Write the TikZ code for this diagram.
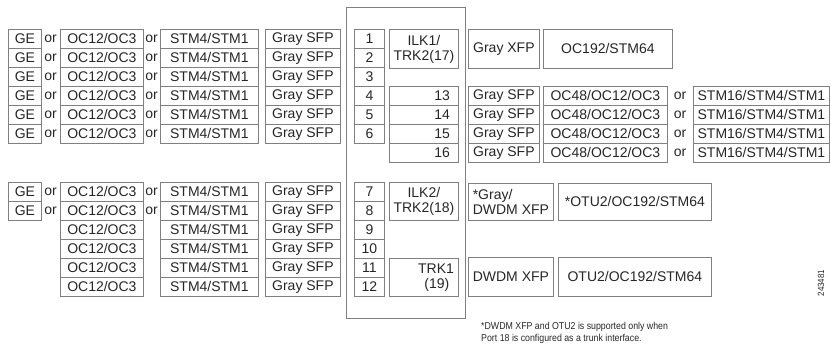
\documentclass[tikz,border=0pt]{standalone}
\usepackage{fontspec}
\setmainfont{Liberation Sans}
\newfontfamily\notefont[FakeStretch=0.88]{Liberation Sans}
\usetikzlibrary{positioning}
\tikzset{>=latex}
\tikzset{ cell/.style={draw=black!50, line width=0.8pt, anchor=north west, minimum height=19, inner sep=0pt, text=black!85, font=\fontsize{14}{15}\selectfont},
  orword/.style={inner sep=0pt, text=black!85, font=\fontsize{14}{15}\selectfont} }
\newcommand{\row}{19}

\begin{document}
\begin{tikzpicture}[x=1pt,y=-1pt]
  \useasboundingbox (0,0) rectangle (831,354);
  % card outline
  \node[draw=black!50, line width=0.8pt, anchor=north west, minimum width=119, minimum height=311, inner sep=0pt] (card) at (346,7) {};
  % client ports 1-6
  \foreach \i [evaluate=\i as \y using {29+\row*(\i-1)}] in {1,...,6} {
    \node[cell,minimum width=33] (ge\i) at (8,\y) {GE};
    \node[orword] (ora\i) at (50.5,\y+9.5) {or};
    \node[cell,minimum width=83] (oc\i) at (60,\y) {OC12/OC3};
    \node[orword] (orb\i) at (151.5,\y+9.5) {or};
    \node[cell,minimum width=98] (stm\i) at (160,\y) {STM4/STM1};
    \node[cell,minimum width=75] (sfp\i) at (265,\y) {Gray SFP};
    \node[cell,minimum width=30] (port\i) at (354,\y) {\i};
  }
  % client ports 7-12
  \foreach \i [evaluate=\i as \y using {182+\row*(\i-7)}] in {7,...,12} {
    \node[cell,minimum width=83] (oc\i) at (60,\y) {OC12/OC3};
    \node[cell,minimum width=98] (stm\i) at (160,\y) {STM4/STM1};
    \node[cell,minimum width=75] (sfp\i) at (265,\y) {Gray SFP};
    \node[cell,minimum width=30] (port\i) at (354,\y) {\i};
  }
  \foreach \i [evaluate=\i as \y using {182+\row*(\i-7)}] in {7,8} {
    \node[cell,minimum width=33] (ge\i) at (8,\y) {GE};
    \node[orword] (ora\i) at (50.5,\y+9.5) {or};
    \node[orword] (orb\i) at (151.5,\y+9.5) {or};
  }
  % high rate ports 13-16
  \foreach \i [evaluate=\i as \y using {86+\row*(\i-13)}] in {13,...,16} {
    \node[cell,minimum width=69,text width=52,align=right] (hp\i) at (389,\y) {\i};
    \node[cell,minimum width=71] (hsfp\i) at (468,\y) {Gray SFP};
    \node[cell,minimum width=124] (hoc\i) at (543,\y) {OC48/OC12/OC3};
    \node[orword] (orc\i) at (680,\y+9.5) {or};
    \node[cell,minimum width=136] (hstm\i) at (693,\y) {STM16/STM4/STM1};
  }
  % trunk ports
  \node[cell,minimum width=69,minimum height=39,align=center] (ilk1) at (389,29) {ILK1/\\TRK2(17)};
  \node[cell,minimum width=71,minimum height=39] (xfp1) at (468,29) {Gray XFP};
  \node[cell,minimum width=129,minimum height=39] (rate1) at (543,29) {OC192/STM64};
  \node[cell,minimum width=69,minimum height=38,align=center] (ilk2) at (389,182) {ILK2/\\TRK2(18)};
  \node[cell,minimum width=85,minimum height=37,align=left] (xfp2) at (468,183) {*Gray/\\DWDM XFP};
  \node[cell,minimum width=153,minimum height=37] (rate2) at (558,183) {*OTU2/OC192/STM64};
  \node[cell,minimum width=69,minimum height=38,text width=60,align=right] (trk1) at (389,258) {TRK1\\(19)\,\,};
  \node[cell,minimum width=85,minimum height=39] (xfp3) at (468,257) {DWDM XFP};
  \node[cell,minimum width=153,minimum height=39] (rate3) at (558,257) {OTU2/OC192/STM64};
  % note
  \node[anchor=north west, inner sep=0pt, align=left, text=black!85, font=\notefont\fontsize{10}{12}\selectfont] (note) at (481,322)
    {*DWDM XFP and OTU2 is supported only when\\Port 18 is configured as a trunk interface.};
  \node[rotate=90, inner sep=0pt, text=black!85, font=\notefont\fontsize{9}{10}\selectfont] (fig) at (821,283) {243481};
\end{tikzpicture}
\end{document}
